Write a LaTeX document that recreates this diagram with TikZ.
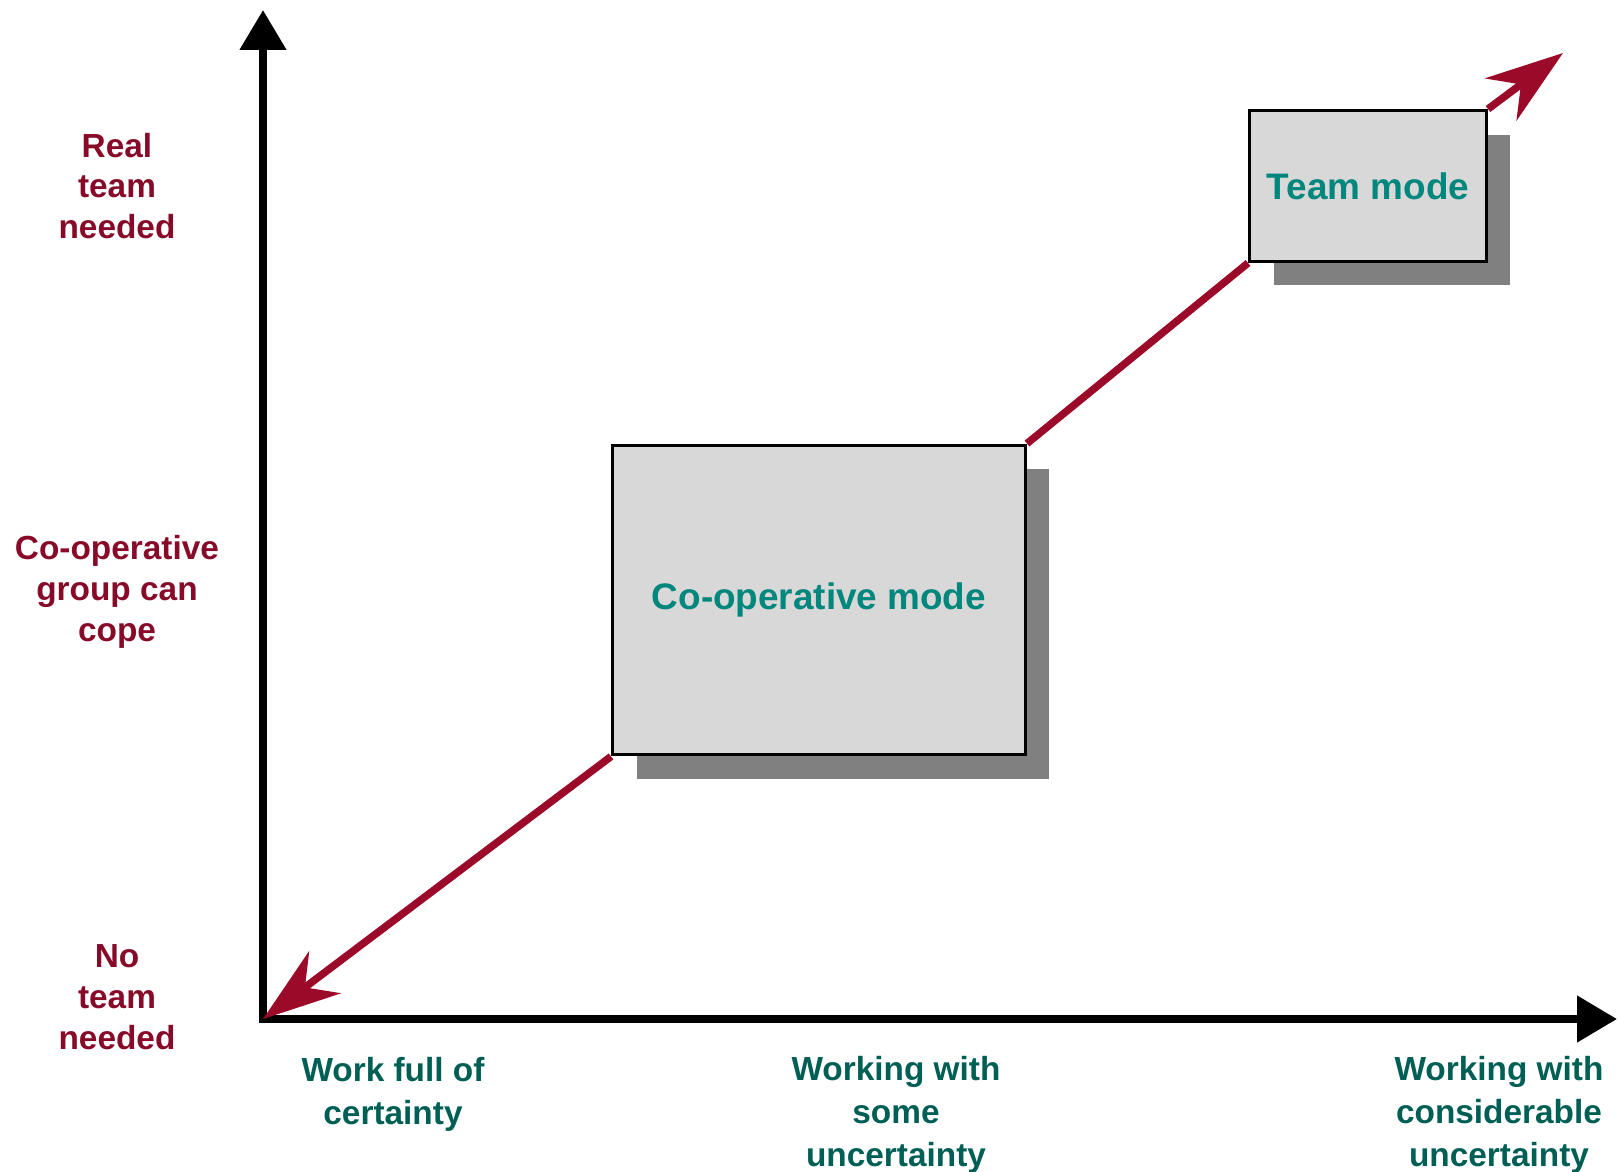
\documentclass[tikz,border=0pt]{standalone}
\usepackage{fontspec}
\setmainfont{Liberation Sans}
\usetikzlibrary{arrows.meta,positioning,shadows}
\definecolor{labred}{RGB}{135,10,40}
\definecolor{labteal}{RGB}{0,95,85}
\definecolor{boxteal}{RGB}{0,135,125}
\definecolor{boxgray}{RGB}{216,216,216}
\definecolor{shadowgray}{RGB}{128,128,128}
\definecolor{arrowred}{RGB}{155,10,40}

\begin{document}
\begin{tikzpicture}[
    x=0.02cm, y=-0.02cm, %one unit is one pixel of the picture
    ylab/.style={text=labred,align=center,
        font=\bfseries\fontsize{19}{23.3}\selectfont},
    xlab/.style={text=labteal,align=center,
        font=\bfseries\fontsize{19}{24.6}\selectfont},
    modebox/.style={draw=black,line width=0.06cm,fill=boxgray,text=boxteal,
        font=\bfseries\fontsize{21}{25}\selectfont,
        general shadow={fill=shadowgray,shadow xshift=0.48cm,shadow yshift=-0.48cm}},
    axisline/.style={line width=0.16cm,
        {Triangle[length=0.8cm,width=0.9cm]}-{Triangle[length=0.8cm,width=0.9cm]}},
    modearrow/.style={draw=arrowred,line width=0.15cm},
    >={Stealth[length=1.55cm,width=1.05cm,inset=0.5cm]},
    ]
    \useasboundingbox (0,0) rectangle (1619,1171);

    %axes
    \coordinate (origin) at (263,1019);
    \coordinate (ytop) at (263,10);
    \coordinate (xend) at (1617,1019);
    \draw[axisline] (ytop) -- (origin) -- (xend);

    %y labels
    \node[ylab] (real) at (117,186) {Real\\team\\needed};
    \node[ylab] (cope) at (117,592) {Co-operative\\group can\\cope};
    \node[ylab] (none) at (117,997) {No\\team\\needed};

    %x labels
    \node[xlab] (certain) at (393,1094) {Work full of\\certainty};
    \node[xlab] (some) at (896,1115) {Working with\\some\\uncertainty};
    \node[xlab] (consid) at (1499,1115) {Working with\\considerable\\uncertainty};

    %modes
    \node[modebox,minimum width=8.26cm,minimum height=6.2cm] (coop) at (819,600) {Co-operative mode};
    \node[modebox,minimum width=4.74cm,minimum height=3.02cm] (team) at (1368,186) {Team mode};

    %red arrows
    \coordinate (up) at (1563,53);
    \draw[modearrow,->] (coop.south west) -- (origin);
    \draw[modearrow] (coop.north east) -- (team.south west);
    \draw[modearrow,->] (team.north east) -- (up);

\end{tikzpicture}
\end{document}
